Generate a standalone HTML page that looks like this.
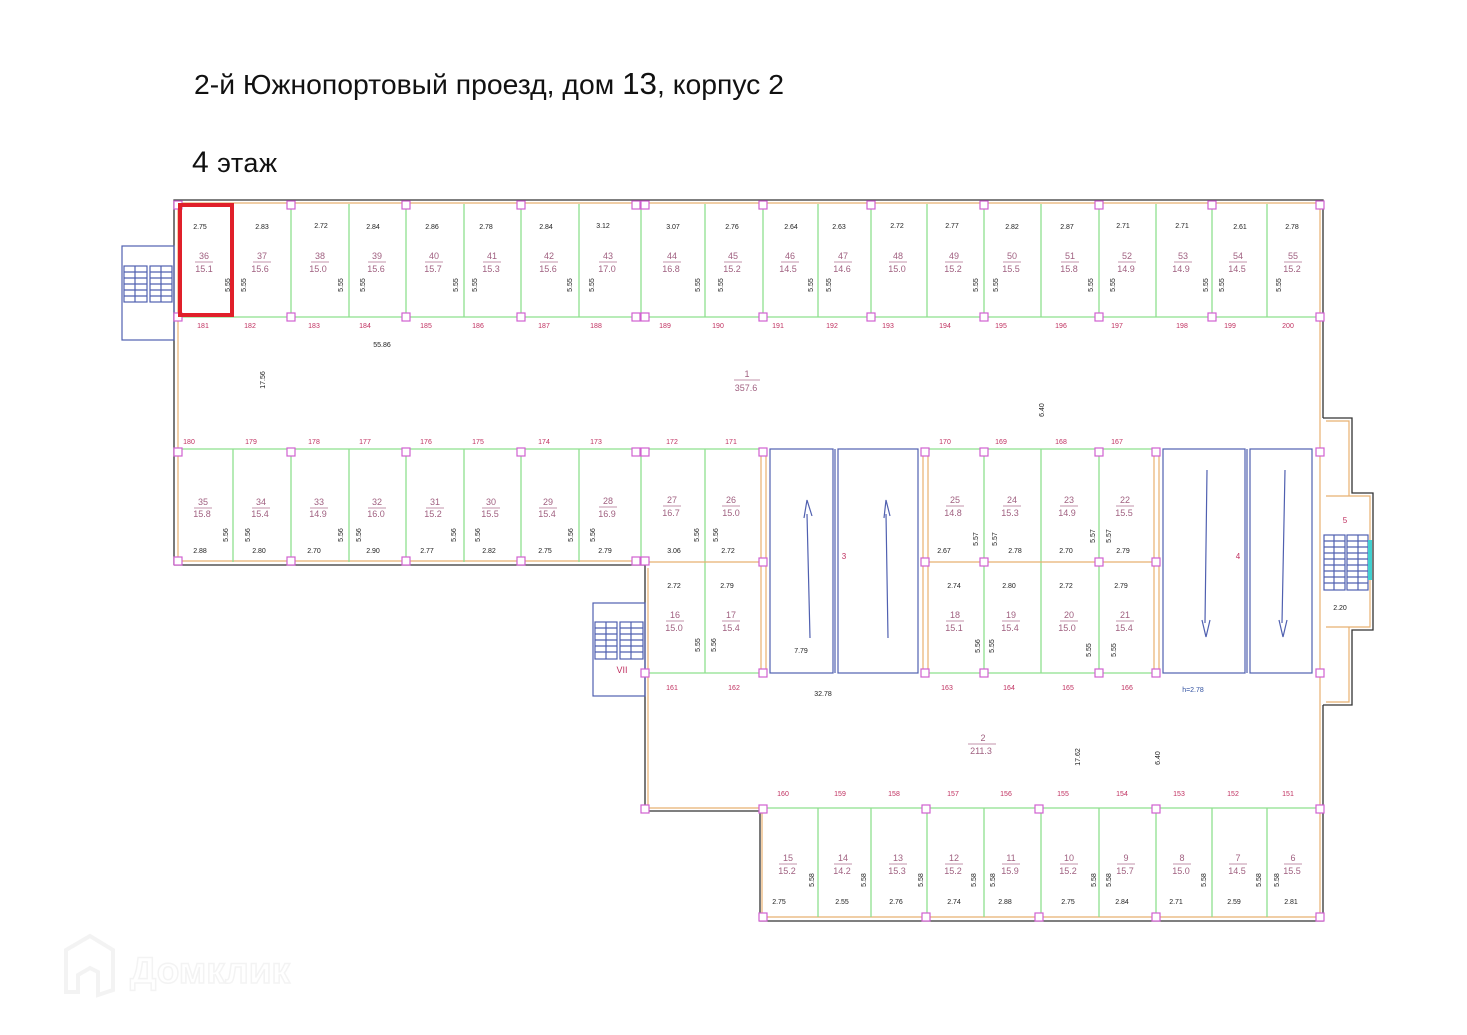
<!DOCTYPE html>
<html><head><meta charset="utf-8"><style>
html,body{margin:0;padding:0;background:#fff;width:1467px;height:1035px;overflow:hidden}
svg{display:block}
.t{font-family:"Liberation Sans",sans-serif;font-size:7px;fill:#222;text-anchor:middle}
.c{font-family:"Liberation Sans",sans-serif;font-size:7px;fill:#c03060;text-anchor:middle}
.r{font-family:"Liberation Sans",sans-serif;font-size:9px;fill:#a06080;text-anchor:middle}
.g{stroke:#8ee08e;stroke-width:1.3;fill:none}
.o{stroke:#e8b070;stroke-width:1.2;fill:none}
.k{stroke:#333;stroke-width:1.3;fill:none}
.b{stroke:#5060b0;stroke-width:1.2;fill:none}
.p{stroke:#d060d0;stroke-width:1.2;fill:#fff}
</style></head><body>
<svg width="1467" height="1035" viewBox="0 0 1467 1035" xmlns="http://www.w3.org/2000/svg">
<text x="194" y="94" style="font-family:'Liberation Sans',sans-serif;font-size:28px" fill="#111" textLength="590" lengthAdjust="spacingAndGlyphs">2-й Южнопортовый проезд, дом <tspan font-size="31">13</tspan>, корпус 2</text>
<text x="192" y="172" style="font-family:'Liberation Sans',sans-serif;font-size:27px" fill="#111" textLength="85" lengthAdjust="spacing"><tspan font-size="30">4</tspan> этаж</text>

<path class="k" d="M174 565 V200 H1323 V418 M1323 705 V921 H760 V811 H645 V565 H174"/>
<path class="o" d="M175 203 H1320 V916 M178 205 V561 H641 M648 568 V808 H762 M762 808 V917 H1320"/>
<rect x="122" y="246" width="52" height="94" class="b"/>
<g class="b"><rect x="124" y="266" width="23" height="36"/><rect x="150" y="266" width="22" height="36"/>
<path d="M124 272H147M124 278H147M124 284H147M124 290H147M124 296H147M150 272H172M150 278H172M150 284H172M150 290H172M150 296H172M135 266V302M161 266V302"/></g>
<path class="g" d="M178 317 H1320 M233 204V317 M291 204V317 M349 204V317 M406 204V317 M464 204V317 M521 204V317 M579 204V317 M641 204V317 M705 204V317 M763 204V317 M818 204V317 M871 204V317 M927 204V317 M984 204V317 M1041 204V317 M1099 204V317 M1156 204V317 M1212 204V317 M1267 204V317"/>
<path class="g" d="M178 449 H763 M925 449 H1156 M233 449V562 M291 449V562 M349 449V562 M406 449V562 M464 449V562 M521 449V562 M579 449V562 M641 449V562 M705 449V673 M984 449V673 M1041 449V673 M1099 449V673"/>
<path class="o" d="M648 562 H763 M925 562 H1156 M761 449V673 M766 449V673 M923 449V673 M928 449V673 M1154 449V673 M1159 449V673"/>
<path class="g" d="M648 673 H763 M925 673 H1156"/>
<g class="b"><rect x="770" y="449" width="63" height="224"/><rect x="838" y="449" width="80" height="224"/><path d="M835 449V673"/>
<rect x="1163" y="449" width="82" height="224"/><rect x="1250" y="449" width="62" height="224"/><path d="M1247 449V673"/>
<path d="M810 638 L807 514 M804 518 L807 500 L812 516 M888 638 L886 514 M884 518 L886 500 L890 516 M1207 470 L1205 623 M1202 620 L1206 637 L1210 620 M1285 470 L1282 623 M1279 620 L1283 637 L1287 620"/></g>
<rect x="593" y="603" width="52" height="93" class="b"/>
<g class="b"><rect x="595" y="622" width="22" height="37"/><rect x="620" y="622" width="23" height="37"/>
<path d="M595 628H617M595 634H617M595 640H617M595 646H617M595 652H617M620 628H643M620 634H643M620 640H643M620 646H643M620 652H643M606 622V659M631 622V659"/></g>
<path class="k" d="M1323 418 H1352 V493 H1373 V630 H1352 V705 H1323"/>
<path class="o" d="M1326 421 H1349 V496 H1370 V627 H1349 V702 H1326 M1326 496 H1349 M1326 627 H1349"/>
<g class="b"><rect x="1324" y="535" width="21" height="55"/><rect x="1347" y="535" width="21" height="55"/>
<path d="M1324 541H1345M1324 547H1345M1324 553H1345M1324 559H1345M1324 565H1345M1324 571H1345M1324 577H1345M1324 583H1345M1347 541H1368M1347 547H1368M1347 553H1368M1347 559H1368M1347 565H1368M1347 571H1368M1347 577H1368M1347 583H1368M1334 535V590M1358 535V590"/></g>
<rect x="1368" y="540" width="4" height="40" fill="#40d0d0"/>
<path class="g" d="M762 808 H1320 M818 808V917 M871 808V917 M927 808V917 M984 808V917 M1041 808V917 M1099 808V917 M1156 808V917 M1212 808V917 M1267 808V917"/>
<g class="p">
<rect x="174" y="201" width="8" height="8"/><rect x="287" y="201" width="8" height="8"/><rect x="402" y="201" width="8" height="8"/><rect x="517" y="201" width="8" height="8"/><rect x="632" y="201" width="8" height="8"/><rect x="641" y="201" width="8" height="8"/><rect x="759" y="201" width="8" height="8"/><rect x="867" y="201" width="8" height="8"/><rect x="980" y="201" width="8" height="8"/><rect x="1095" y="201" width="8" height="8"/><rect x="1208" y="201" width="8" height="8"/><rect x="1316" y="201" width="8" height="8"/>
<rect x="174" y="313" width="8" height="8"/><rect x="287" y="313" width="8" height="8"/><rect x="402" y="313" width="8" height="8"/><rect x="517" y="313" width="8" height="8"/><rect x="632" y="313" width="8" height="8"/><rect x="641" y="313" width="8" height="8"/><rect x="759" y="313" width="8" height="8"/><rect x="867" y="313" width="8" height="8"/><rect x="980" y="313" width="8" height="8"/><rect x="1095" y="313" width="8" height="8"/><rect x="1208" y="313" width="8" height="8"/><rect x="1316" y="313" width="8" height="8"/>
<rect x="174" y="448" width="8" height="8"/><rect x="287" y="448" width="8" height="8"/><rect x="402" y="448" width="8" height="8"/><rect x="517" y="448" width="8" height="8"/><rect x="632" y="448" width="8" height="8"/><rect x="641" y="448" width="8" height="8"/><rect x="759" y="448" width="8" height="8"/><rect x="921" y="448" width="8" height="8"/><rect x="980" y="448" width="8" height="8"/><rect x="1095" y="448" width="8" height="8"/><rect x="1152" y="448" width="8" height="8"/><rect x="1316" y="448" width="8" height="8"/>
<rect x="174" y="557" width="8" height="8"/><rect x="287" y="557" width="8" height="8"/><rect x="402" y="557" width="8" height="8"/><rect x="517" y="557" width="8" height="8"/><rect x="632" y="557" width="8" height="8"/><rect x="641" y="557" width="8" height="8"/><rect x="759" y="558" width="8" height="8"/><rect x="921" y="558" width="8" height="8"/><rect x="980" y="558" width="8" height="8"/><rect x="1095" y="558" width="8" height="8"/><rect x="1152" y="558" width="8" height="8"/>
<rect x="641" y="669" width="8" height="8"/><rect x="759" y="669" width="8" height="8"/><rect x="921" y="669" width="8" height="8"/><rect x="980" y="669" width="8" height="8"/><rect x="1095" y="669" width="8" height="8"/><rect x="1152" y="669" width="8" height="8"/><rect x="1316" y="669" width="8" height="8"/>
<rect x="641" y="805" width="8" height="8"/><rect x="759" y="805" width="8" height="8"/><rect x="922" y="805" width="8" height="8"/><rect x="1035" y="805" width="8" height="8"/><rect x="1152" y="805" width="8" height="8"/><rect x="1316" y="805" width="8" height="8"/>
<rect x="759" y="913" width="8" height="8"/><rect x="922" y="913" width="8" height="8"/><rect x="1035" y="913" width="8" height="8"/><rect x="1152" y="913" width="8" height="8"/><rect x="1316" y="913" width="8" height="8"/>
</g>
<rect x="180" y="205" width="52" height="110" fill="none" stroke="#e0202a" stroke-width="4"/>

<g class="t">
<text x="200" y="229">2.75</text><text x="262" y="229">2.83</text><text x="321" y="228">2.72</text><text x="373" y="229">2.84</text><text x="432" y="229">2.86</text><text x="486" y="229">2.78</text><text x="546" y="229">2.84</text><text x="603" y="228">3.12</text><text x="673" y="229">3.07</text><text x="732" y="229">2.76</text><text x="791" y="229">2.64</text><text x="839" y="229">2.63</text><text x="897" y="228">2.72</text><text x="952" y="228">2.77</text><text x="1012" y="229">2.82</text><text x="1067" y="229">2.87</text><text x="1123" y="228">2.71</text><text x="1182" y="228">2.71</text><text x="1240" y="229">2.61</text><text x="1292" y="229">2.78</text>
<text x="200" y="553">2.88</text><text x="259" y="553">2.80</text><text x="314" y="553">2.70</text><text x="373" y="553">2.90</text><text x="427" y="553">2.77</text><text x="489" y="553">2.82</text><text x="545" y="553">2.75</text><text x="605" y="553">2.79</text><text x="674" y="553">3.06</text><text x="728" y="553">2.72</text><text x="944" y="553">2.67</text><text x="1015" y="553">2.78</text><text x="1066" y="553">2.70</text><text x="1123" y="553">2.79</text>
<text x="674" y="588">2.72</text><text x="727" y="588">2.79</text><text x="954" y="588">2.74</text><text x="1009" y="588">2.80</text><text x="1066" y="588">2.72</text><text x="1121" y="588">2.79</text>
<text x="779" y="904">2.75</text><text x="842" y="904">2.55</text><text x="896" y="904">2.76</text><text x="954" y="904">2.74</text><text x="1005" y="904">2.88</text><text x="1068" y="904">2.75</text><text x="1122" y="904">2.84</text><text x="1176" y="904">2.71</text><text x="1234" y="904">2.59</text><text x="1291" y="904">2.81</text>
<text x="382" y="347">55.86</text><text x="801" y="653">7.79</text><text x="823" y="696">32.78</text><text x="1340" y="610">2.20</text>
<text x="1193" y="692" fill="#3050a0">h=2.78</text>
</g>
<g class="t">
<text transform="translate(230,285) rotate(-90)">5.55</text><text transform="translate(246,285) rotate(-90)">5.55</text><text transform="translate(343,285) rotate(-90)">5.55</text><text transform="translate(365,285) rotate(-90)">5.55</text><text transform="translate(458,285) rotate(-90)">5.55</text><text transform="translate(477,285) rotate(-90)">5.55</text><text transform="translate(572,285) rotate(-90)">5.55</text><text transform="translate(594,285) rotate(-90)">5.55</text><text transform="translate(700,285) rotate(-90)">5.55</text><text transform="translate(723,285) rotate(-90)">5.55</text><text transform="translate(813,285) rotate(-90)">5.55</text><text transform="translate(831,285) rotate(-90)">5.55</text><text transform="translate(978,285) rotate(-90)">5.55</text><text transform="translate(998,285) rotate(-90)">5.55</text><text transform="translate(1093,285) rotate(-90)">5.55</text><text transform="translate(1115,285) rotate(-90)">5.55</text><text transform="translate(1208,285) rotate(-90)">5.55</text><text transform="translate(1224,285) rotate(-90)">5.55</text><text transform="translate(1281,285) rotate(-90)">5.55</text>
<text transform="translate(228,535) rotate(-90)">5.56</text><text transform="translate(250,535) rotate(-90)">5.56</text><text transform="translate(343,535) rotate(-90)">5.56</text><text transform="translate(361,535) rotate(-90)">5.56</text><text transform="translate(456,535) rotate(-90)">5.56</text><text transform="translate(480,535) rotate(-90)">5.56</text><text transform="translate(573,535) rotate(-90)">5.56</text><text transform="translate(595,535) rotate(-90)">5.56</text><text transform="translate(699,535) rotate(-90)">5.56</text><text transform="translate(718,535) rotate(-90)">5.56</text><text transform="translate(978,539) rotate(-90)">5.57</text><text transform="translate(997,539) rotate(-90)">5.57</text><text transform="translate(1095,536) rotate(-90)">5.57</text><text transform="translate(1111,536) rotate(-90)">5.57</text>
<text transform="translate(700,645) rotate(-90)">5.55</text><text transform="translate(716,645) rotate(-90)">5.56</text><text transform="translate(980,646) rotate(-90)">5.56</text><text transform="translate(994,646) rotate(-90)">5.55</text><text transform="translate(1091,650) rotate(-90)">5.55</text><text transform="translate(1116,650) rotate(-90)">5.55</text>
<text transform="translate(814,880) rotate(-90)">5.58</text><text transform="translate(866,880) rotate(-90)">5.58</text><text transform="translate(923,880) rotate(-90)">5.58</text><text transform="translate(976,880) rotate(-90)">5.58</text><text transform="translate(995,880) rotate(-90)">5.58</text><text transform="translate(1096,880) rotate(-90)">5.58</text><text transform="translate(1111,880) rotate(-90)">5.58</text><text transform="translate(1206,880) rotate(-90)">5.58</text><text transform="translate(1261,880) rotate(-90)">5.58</text><text transform="translate(1279,880) rotate(-90)">5.58</text>
<text transform="translate(265,380) rotate(-90)">17.56</text><text transform="translate(1044,410) rotate(-90)">6.40</text><text transform="translate(1080,757) rotate(-90)">17.62</text><text transform="translate(1160,758) rotate(-90)">6.40</text>
</g>
<g class="c">
<text x="203" y="328">181</text><text x="250" y="328">182</text><text x="314" y="328">183</text><text x="365" y="328">184</text><text x="426" y="328">185</text><text x="478" y="328">186</text><text x="544" y="328">187</text><text x="596" y="328">188</text><text x="665" y="328">189</text><text x="718" y="328">190</text><text x="778" y="328">191</text><text x="832" y="328">192</text><text x="888" y="328">193</text><text x="945" y="328">194</text><text x="1001" y="328">195</text><text x="1061" y="328">196</text><text x="1117" y="328">197</text><text x="1182" y="328">198</text><text x="1230" y="328">199</text><text x="1288" y="328">200</text>
<text x="189" y="444">180</text><text x="251" y="444">179</text><text x="314" y="444">178</text><text x="365" y="444">177</text><text x="426" y="444">176</text><text x="478" y="444">175</text><text x="544" y="444">174</text><text x="596" y="444">173</text><text x="672" y="444">172</text><text x="731" y="444">171</text><text x="945" y="444">170</text><text x="1001" y="444">169</text><text x="1061" y="444">168</text><text x="1117" y="444">167</text>
<text x="672" y="690">161</text><text x="734" y="690">162</text><text x="947" y="690">163</text><text x="1009" y="690">164</text><text x="1068" y="690">165</text><text x="1127" y="690">166</text>
<text x="783" y="796">160</text><text x="840" y="796">159</text><text x="894" y="796">158</text><text x="953" y="796">157</text><text x="1006" y="796">156</text><text x="1063" y="796">155</text><text x="1122" y="796">154</text><text x="1179" y="796">153</text><text x="1233" y="796">152</text><text x="1288" y="796">151</text>
<text x="844" y="559" font-size="8">3</text><text x="1238" y="559" font-size="8">4</text><text x="1345" y="523" font-size="8">5</text><text x="622" y="673" font-size="9">VII</text>
</g>
<g class="r">
<text x="204" y="259">36</text><text x="204" y="272">15.1</text><text x="262" y="259">37</text><text x="260" y="272">15.6</text><text x="320" y="259">38</text><text x="318" y="272">15.0</text><text x="377" y="259">39</text><text x="376" y="272">15.6</text><text x="434" y="259">40</text><text x="433" y="272">15.7</text><text x="492" y="259">41</text><text x="491" y="272">15.3</text><text x="549" y="259">42</text><text x="548" y="272">15.6</text><text x="608" y="259">43</text><text x="607" y="272">17.0</text><text x="672" y="259">44</text><text x="671" y="272">16.8</text><text x="733" y="259">45</text><text x="732" y="272">15.2</text><text x="790" y="259">46</text><text x="788" y="272">14.5</text><text x="843" y="259">47</text><text x="842" y="272">14.6</text><text x="898" y="259">48</text><text x="897" y="272">15.0</text><text x="954" y="259">49</text><text x="953" y="272">15.2</text><text x="1012" y="259">50</text><text x="1011" y="272">15.5</text><text x="1070" y="259">51</text><text x="1069" y="272">15.8</text><text x="1127" y="259">52</text><text x="1126" y="272">14.9</text><text x="1183" y="259">53</text><text x="1181" y="272">14.9</text><text x="1238" y="259">54</text><text x="1237" y="272">14.5</text><text x="1293" y="259">55</text><text x="1292" y="272">15.2</text>
<text x="203" y="505">35</text><text x="202" y="517">15.8</text><text x="261" y="505">34</text><text x="260" y="517">15.4</text><text x="319" y="505">33</text><text x="318" y="517">14.9</text><text x="377" y="505">32</text><text x="376" y="517">16.0</text><text x="435" y="505">31</text><text x="433" y="517">15.2</text><text x="491" y="505">30</text><text x="490" y="517">15.5</text><text x="548" y="505">29</text><text x="547" y="517">15.4</text><text x="608" y="504">28</text><text x="607" y="517">16.9</text><text x="672" y="503">27</text><text x="671" y="516">16.7</text><text x="731" y="503">26</text><text x="731" y="516">15.0</text>
<text x="955" y="503">25</text><text x="953" y="516">14.8</text><text x="1012" y="503">24</text><text x="1010" y="516">15.3</text><text x="1069" y="503">23</text><text x="1067" y="516">14.9</text><text x="1125" y="503">22</text><text x="1124" y="516">15.5</text>
<text x="675" y="618">16</text><text x="674" y="631">15.0</text><text x="731" y="618">17</text><text x="731" y="631">15.4</text><text x="955" y="618">18</text><text x="954" y="631">15.1</text><text x="1011" y="618">19</text><text x="1010" y="631">15.4</text><text x="1069" y="618">20</text><text x="1067" y="631">15.0</text><text x="1125" y="618">21</text><text x="1124" y="631">15.4</text>
<text x="788" y="861">15</text><text x="787" y="874">15.2</text><text x="843" y="861">14</text><text x="842" y="874">14.2</text><text x="898" y="861">13</text><text x="897" y="874">15.3</text><text x="954" y="861">12</text><text x="953" y="874">15.2</text><text x="1011" y="861">11</text><text x="1010" y="874">15.9</text><text x="1069" y="861">10</text><text x="1068" y="874">15.2</text><text x="1126" y="861">9</text><text x="1125" y="874">15.7</text><text x="1182" y="861">8</text><text x="1181" y="874">15.0</text><text x="1238" y="861">7</text><text x="1237" y="874">14.5</text><text x="1293" y="861">6</text><text x="1292" y="874">15.5</text>
<text x="747" y="377">1</text><text x="746" y="391">357.6</text><text x="983" y="741">2</text><text x="981" y="754">211.3</text>
</g>
<g stroke="#b07090" stroke-width="0.8">
<path d="M195 262H213M253 262H271M311 262H329M368 262H386M425 262H443M483 262H501M540 262H558M599 262H617M663 262H681M724 262H742M781 262H799M834 262H852M889 262H907M945 262H963M1003 262H1021M1061 262H1079M1118 262H1136M1174 262H1192M1229 262H1247M1284 262H1302"/>
<path d="M194 508H212M252 508H270M310 508H328M368 508H386M426 508H444M482 508H500M539 508H557M599 507H617M663 506H681M722 506H740M946 506H964M1003 506H1021M1060 506H1078M1116 506H1134"/>
<path d="M666 621H684M722 621H740M946 621H964M1002 621H1020M1060 621H1078M1116 621H1134"/>
<path d="M779 864H797M834 864H852M889 864H907M945 864H963M1002 864H1020M1060 864H1078M1117 864H1135M1173 864H1191M1229 864H1247M1284 864H1302"/>
<path d="M734 380H760M968 744H996"/>
</g>
<g opacity="0.45">
<path d="M66 950 L90 936 L113 950 V990 L98 995 V972 L90 968 L78 975 V992 H66 Z" fill="none" stroke="#e6e6e6" stroke-width="4"/>
<text x="130" y="983" style="font-family:'Liberation Sans',sans-serif;font-size:37px;font-weight:bold" fill="none" stroke="#e6e6e6" stroke-width="1.5">Домклик</text>
</g>
</svg>
</body></html>
